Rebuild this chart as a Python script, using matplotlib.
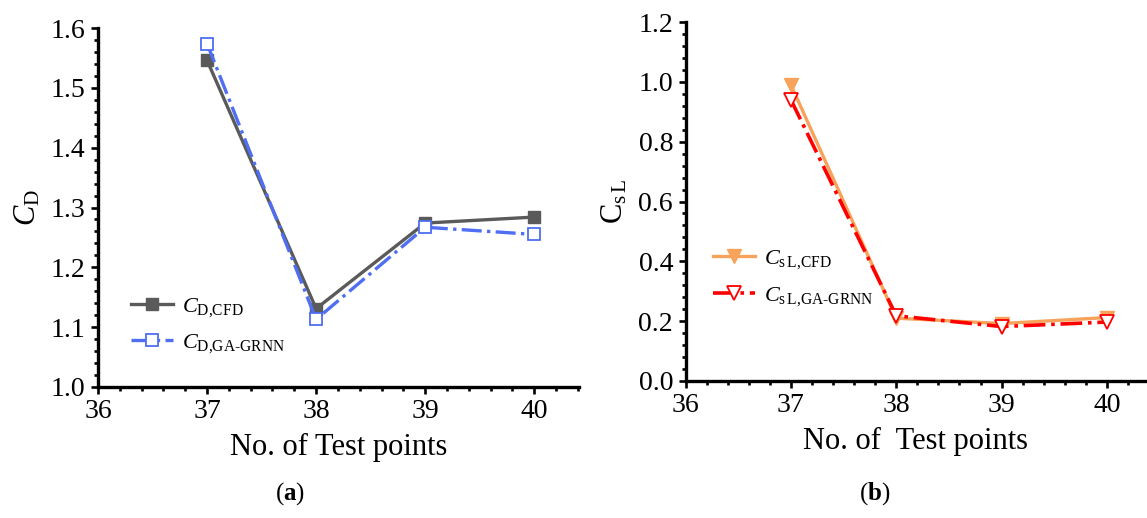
import matplotlib
import matplotlib.pyplot as plt
from matplotlib.ticker import MultipleLocator, FormatStrFormatter

matplotlib.use("Agg")

plt.rcParams['font.family'] = ['Liberation Serif', 'DejaVu Serif']
plt.rcParams['mathtext.fontset'] = 'custom'
plt.rcParams['mathtext.rm'] = 'Liberation Serif'
plt.rcParams['mathtext.it'] = 'Liberation Serif:italic'
plt.rcParams['mathtext.bf'] = 'Liberation Serif:bold'

# data
test_points = [37, 38, 39, 40]
cd_cfd = [1.546, 1.131, 1.274, 1.284]
cd_grnn = [1.574, 1.113, 1.267, 1.255]
csl_cfd = [0.990, 0.210, 0.192, 0.212]
csl_grnn = [0.940, 0.218, 0.182, 0.197]

fig = plt.figure(figsize=(11.47, 5.18), dpi=100)
ax1 = fig.add_axes([0.0854, 0.2529, 0.4194, 0.693])
ax2 = fig.add_axes([0.5977, 0.2645, 0.4014, 0.693])

dashdot = (0, (6, 1.6, 1, 1.6))

ax1.plot(test_points, cd_cfd, color='#5a5a5a', lw=2.4, marker='s', ms=8.5,
         mfc='#5a5a5a', mec='#5a5a5a', label=r'$\mathit{C}_{\mathrm{D{,}CFD}}$', zorder=3)
ax1.plot(test_points, cd_grnn, color='#4f6ef2', lw=2.4, ls=dashdot, marker='s', ms=8.5,
         mfc='white', mec='#4f6ef2', mew=1.3,
         label=r'$\mathit{C}_{\mathrm{D{,}GA}\text{-}\mathrm{GRNN}}$', zorder=4)

ax2.plot(test_points, csl_cfd, color='#f7a35c', lw=2.4, marker='v', ms=10,
         mfc='#f7a35c', mec='#f7a35c', label=r'$\mathit{C}_{\mathrm{s\,L{,}CFD}}$', zorder=3)
ax2.plot(test_points, csl_grnn, color='#ff0000', lw=2.6, ls=dashdot, marker='v', ms=10,
         mfc='white', mec='#ff0000', mew=1.3,
         label=r'$\mathit{C}_{\mathrm{s\,L{,}GA}\text{-}\mathrm{GRNN}}$', zorder=4)

ax1.set_xlim(36, 40.41)
ax1.set_ylim(1.0, 1.6)
ax1.yaxis.set_major_locator(MultipleLocator(0.1))
ax1.yaxis.set_minor_locator(MultipleLocator(0.02))
ax1.set_ylabel(r'$\mathit{C}_{\mathrm{D}}$', fontsize=22, labelpad=6)
ax1.set_xlabel('No. of Test points', fontsize=22, labelpad=6)

ax2.set_xlim(36, 40.37)
ax2.set_ylim(0.0, 1.2)
ax2.yaxis.set_major_locator(MultipleLocator(0.2))
ax2.yaxis.set_minor_locator(MultipleLocator(0.04))
ax2.set_ylabel(r'$\mathrm{C}_{\mathrm{s\,L}}$', fontsize=22, labelpad=6)
ax2.set_xlabel('No. of  Test points', fontsize=22, labelpad=6)

for ax in (ax1, ax2):
    ax.xaxis.set_major_locator(MultipleLocator(1))
    ax.xaxis.set_minor_locator(MultipleLocator(0.2))
    for s in ('top', 'right'):
        ax.spines[s].set_visible(False)
    for s in ('left', 'bottom'):
        ax.spines[s].set_linewidth(2.4)
    ax.tick_params(which='major', direction='out', length=5, width=1.9, labelsize=20, pad=4)
    ax.tick_params(which='minor', direction='out', length=3, width=1.9)
    ax.yaxis.set_major_formatter(FormatStrFormatter('%.1f'))

ax1.legend(loc='upper left', bbox_to_anchor=(0.045, 0.285), frameon=False, fontsize=16,
           handlelength=1.9, handletextpad=0.4, labelspacing=0.6, borderpad=0)
ax2.legend(loc='upper left', bbox_to_anchor=(0.035, 0.40), frameon=False, fontsize=16,
           handlelength=1.9, handletextpad=0.4, labelspacing=0.6, borderpad=0)

fig.text(0.253, 0.048, r'($\mathbf{a}$)', ha='center', va='center', fontsize=18)
fig.text(0.763, 0.048, r'($\mathbf{b}$)', ha='center', va='center', fontsize=18)

fig.savefig('out.png', dpi=100)
plt.close(fig)
